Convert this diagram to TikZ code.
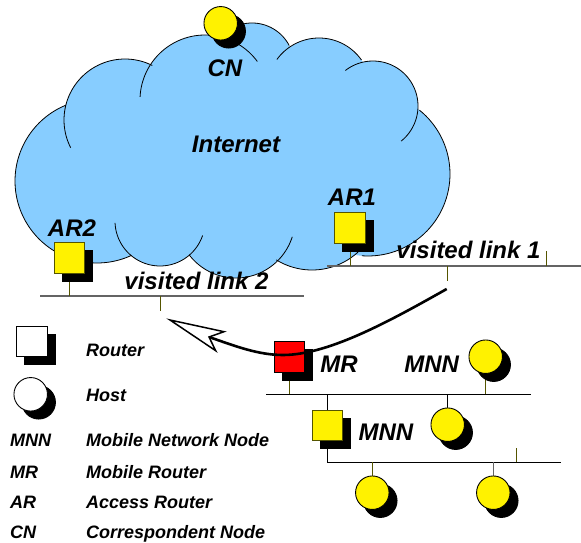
\documentclass[tikz,border=0pt]{standalone}
\usepackage{fontspec}
\setmainfont{Liberation Sans}
\usetikzlibrary{shadows,backgrounds,calc}
\definecolor{cloudblue}{RGB}{135,205,255}
\definecolor{stubolive}{RGB}{85,85,0}
\definecolor{busgray}{RGB}{100,100,100}
\newcommand{\lobe}[7]{%
  \pgfmathsetmacro{\aone}{atan2(#5-#2,#4-#1)}%
  \pgfmathsetmacro{\atwo}{atan2(#7-#2,#6-#1)}%
  \pgfmathsetmacro{\atwofix}{\atwo<\aone ? \atwo+360 : \atwo}%
  \draw[cloudline] plot[smooth,domain=\aone:\atwofix,samples=50,variable=\t] ({#1+#3*cos(\t)},{#2+#3*sin(\t)});%
}
\tikzset{
  cloudline/.style={black,line width=0.8pt},
  routerbox/.style={draw=#1,line width=0.9pt,inner sep=0pt,minimum size=30.5pt,rectangle,
    copy shadow={fill=black,draw=black,shadow xshift=8pt,shadow yshift=-8pt}},
  routerbox/.default=black,
  hostdisc/.style={draw=black,line width=0.9pt,inner sep=0pt,minimum size=33.5pt,circle,
    copy shadow={fill=black,draw=black,shadow xshift=8pt,shadow yshift=-8pt}},
  biglabel/.style={font=\fontsize{24}{24}\selectfont\bfseries\itshape,inner sep=0pt,anchor=base},
  legendlabel/.style={font=\fontsize{18}{18}\selectfont\bfseries\itshape,inner sep=0pt,anchor=base west},
  stubline/.style={stubolive,line width=0.9pt},
  graybus/.style={busgray,line width=1.1pt},
  blackbus/.style={black,line width=0.9pt},
  movecurve/.style={black,line width=2.6pt},
  arrowoutline/.style={draw=black,fill=white,line width=1.5pt,line join=miter}
}
\begin{document}
\begin{tikzpicture}[x=1pt,y=-1pt]
\useasboundingbox (0,0) rectangle (581,543);
% nodes
\node[routerbox=stubolive,fill=yellow] (ar1) at (350,228) {};
\node[routerbox=stubolive,fill=yellow] (ar2) at (69.5,258) {};
\node[routerbox,fill=red] (mr) at (289.5,357) {};
\node[routerbox=stubolive,fill=yellow] (mnnr) at (327.3,425.5) {};
\node[hostdisc,fill=yellow] (cn) at (220.7,23.3) {};
\node[hostdisc,fill=yellow] (hosta) at (485.7,356.7) {};
\node[hostdisc,fill=yellow] (hostb) at (447.7,424.7) {};
\node[hostdisc,fill=yellow] (hostc) at (372.3,492.7) {};
\node[hostdisc,fill=yellow] (hostd) at (493.3,492.7) {};
\node[routerbox,fill=white] (legr) at (31.7,341.3) {};
\node[hostdisc,fill=white] (legh) at (30.7,394.3) {};
% bus coordinates
\coordinate (l1a) at (327,266);
\coordinate (l1b) at (581,266);
\coordinate (l2a) at (40,296);
\coordinate (l2b) at (304,296);
\coordinate (l3a) at (266,394.3);
\coordinate (l3b) at (530.7,394.3);
\coordinate (l4a) at (327.3,462.3);
\coordinate (l4b) at (561,462.3);
\coordinate (s1) at (447.5,281);
\coordinate (s2) at (546,251);
\coordinate (s3) at (160,311);
\coordinate (s4) at (516.7,448);
\begin{pgfonlayer}{background}
% cloud
\fill[cloudblue] (97,181) circle[radius=82pt];
\fill[cloudblue] (125,120) circle[radius=61pt];
\fill[cloudblue] (205,100) circle[radius=65pt];
\fill[cloudblue] (252,65) circle[radius=42pt];
\fill[cloudblue] (319,90) circle[radius=52pt];
\fill[cloudblue] (373,106) circle[radius=45pt];
\fill[cloudblue] (368,174) circle[radius=82pt];
\fill[cloudblue] (160,221) circle[radius=45pt];
\fill[cloudblue] (236,219) circle[radius=59pt];
\fill[cloudblue] (312,202) circle[radius=68pt];
\fill[cloudblue] (100,100) rectangle (400,230);
\lobe{97}{181}{82}{130}{252}{67}{108}
\lobe{125}{120}{61}{70}{148}{153}{64}
\lobe{205}{100}{65}{141}{97}{258}{61}
\lobe{252}{65}{42}{226}{32}{290}{45}
\lobe{319}{90}{52}{279}{61}{360}{61}
\lobe{373}{106}{45}{345}{70}{402}{142}
\lobe{368}{174}{82}{418}{112}{362}{254}
\lobe{160}{221}{45}{204}{236}{114}{223}
\lobe{236}{219}{59}{293}{237}{185}{258}
\lobe{312}{202}{68}{360}{254}{275}{262}
% buses and stubs
\draw[graybus] (l1a) -- (l1b);
\draw[graybus] (l2a) -- (l2b);
\draw[blackbus] (l3a) -- (l3b);
\draw[blackbus] (l4a) -- (l4b);
\draw[stubline] (ar1) -- (ar1 |- l1a);
\draw[stubline] (s1 |- l1a) -- (s1);
\draw[stubline] (s2 |- l1a) -- (s2);
\draw[stubline] (ar2) -- (ar2 |- l2a);
\draw[stubline] (s3 |- l2a) -- (s3);
\draw[stubline] (mr) -- (mr |- l3a);
\draw[stubline] (hosta) -- (hosta |- l3a);
\draw[blackbus] (mnnr) -- (mnnr |- l3a);
\draw[blackbus] (hostb) -- (hostb |- l3a);
\draw[black,line width=1.1pt] (mnnr) -- (mnnr |- l4a);
\draw[stubline] (s4 |- l4a) -- (s4);
\draw[stubline] (hostc) -- (hostc |- l4a);
\draw[busgray,line width=0.9pt] (hostd) -- (hostd |- l4a);
\end{pgfonlayer}
% movement arrow
\coordinate (mvstart) at (446.7,289);
\coordinate (mvnotch) at (209,337);
\coordinate (mvtip) at (170,320);
\coordinate (mvup) at (224,331.7);
\coordinate (mvdown) at (215.7,350.7);
\draw[movecurve] (mvstart) .. controls (395,318) and (330,355) .. (283,355)
  .. controls (258,355) and (235,346) .. (mvnotch);
\draw[arrowoutline] (mvtip) -- (mvup) -- (mvnotch) -- (mvdown) -- cycle;
% labels
\node[biglabel] (tcn) at (225,77) {CN};
\node[biglabel] (tinet) at (236,152) {Internet};
\node[biglabel] (tar2) at (72,236) {AR2};
\node[biglabel] (tar1) at (352,205) {AR1};
\node[biglabel] (tl1) at (468.5,258) {visited link 1};
\node[biglabel] (tl2) at (196.5,289) {visited link 2};
\node[biglabel] (tmr) at (339,372) {MR};
\node[biglabel] (tmnna) at (431.7,372) {MNN};
\node[biglabel] (tmnnb) at (386,440) {MNN};
% legend
\node[legendlabel] (lg1) at (86,356.7) {Router};
\node[legendlabel] (lg2) at (86,401.7) {Host};
\node[legendlabel] (lk3) at (10,446.7) {MNN};
\node[legendlabel] (lg3) at (86,446.7) {Mobile Network Node};
\node[legendlabel] (lk4) at (10,478) {MR};
\node[legendlabel] (lg4) at (86,478) {Mobile Router};
\node[legendlabel] (lk5) at (10,508) {AR};
\node[legendlabel] (lg5) at (86,508) {Access Router};
\node[legendlabel] (lk6) at (10,538) {CN};
\node[legendlabel] (lg6) at (86,538) {Correspondent Node};
\end{tikzpicture}
\end{document}
